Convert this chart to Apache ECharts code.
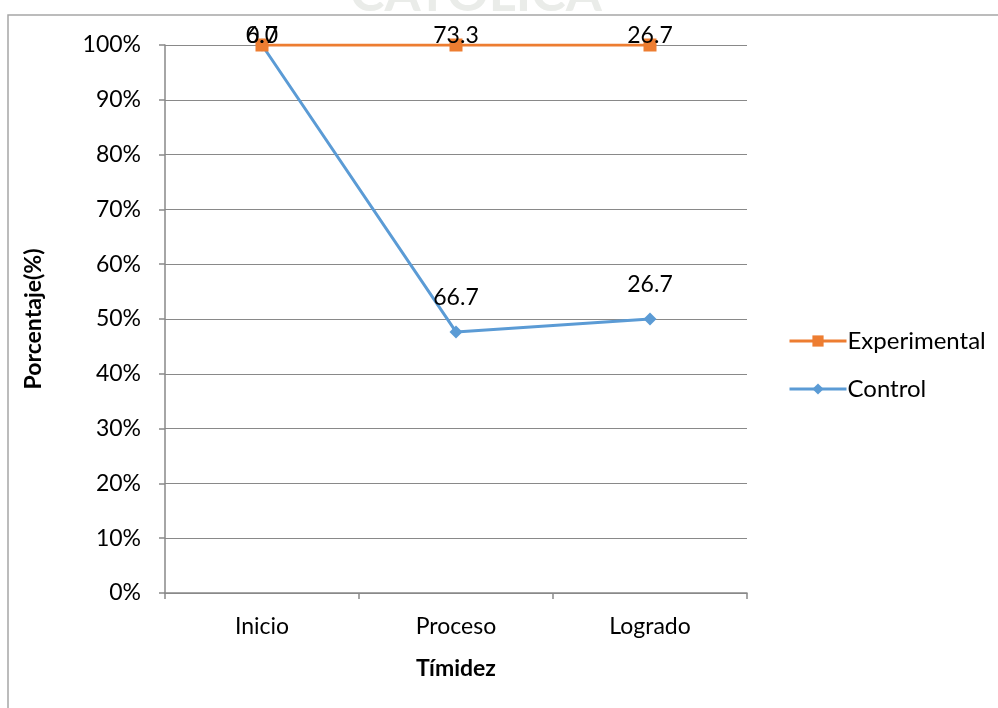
<!DOCTYPE html>
<html>
<head>
<meta charset="utf-8">
<script src="https://cdn.jsdelivr.net/npm/echarts@6/dist/echarts.min.js"></script>
<style>html,body{margin:0;padding:0;background:#fff}#c{width:998px;height:708px}</style>
</head>
<body>
<div id="c"></div>
<script>
var categories = ['Inicio', 'Proceso', 'Logrado'];
var controlValues = [6.7, 66.7, 26.7];
var experimentalValues = [0.0, 73.3, 26.7];
var yTicks = [0, 10, 20, 30, 40, 50, 60, 70, 80, 90, 100];

// 100% stacked line: Control first, Experimental stacked on top
function share(i, upto) {
  var total = controlValues[i] + experimentalValues[i];
  var s = upto === 0 ? controlValues[i] : controlValues[i] + experimentalValues[i];
  return total === 0 ? 0 : s / total * 100;
}
function buildData(raw, upto) {
  return raw.map(function (v, i) {
    var p = share(i, upto);
    var off = p >= 99.9 ? -9 : -34;
    return { value: p, raw: v, label: { offset: [0, off] } };
  });
}

var font = 'Lato';
var chart = echarts.init(document.getElementById('c'), null, { renderer: 'canvas' });
chart.setOption({
  backgroundColor: '#fff',
  animation: false,
  graphic: [
    { type: 'text', left: 350, top: -32, z: -5, style: { text: 'CATÓLICA', font: 'bold 52px Lato', fill: '#eaece9' } },
    { type: 'rect', shape: { x: 8, y: 15, width: 1100, height: 800 }, z: -4, style: { fill: '#fff', stroke: '#a6a6a6', lineWidth: 1.5 } }
  ],
  grid: { left: 165, right: 251, top: 45, bottom: 115, containLabel: false },
  legend: {
    orient: 'vertical', left: 783, top: 324, itemWidth: 57, itemHeight: 14, itemGap: 24,
    lineStyle: { width: 3 },
    textStyle: { fontFamily: font, fontSize: 24, color: '#000', padding: [0, 0, 0, -4] },
    data: ['Experimental', 'Control']
  },
  xAxis: {
    type: 'category', data: categories, boundaryGap: true,
    name: 'Tímidez', nameLocation: 'middle', nameGap: 64,
    nameTextStyle: { fontFamily: font, fontSize: 23, fontWeight: 'bold', color: '#000' },
    axisLine: { lineStyle: { color: '#898989', width: 1.5 } },
    axisTick: { show: true, length: 6, alignWithLabel: false, lineStyle: { color: '#898989', width: 1.5 } },
    axisLabel: { fontFamily: font, fontSize: 23, color: '#000', margin: 22 }
  },
  yAxis: {
    type: 'value', min: 0, max: 100, interval: 10,
    name: 'Porcentaje(%)', nameLocation: 'middle', nameGap: 120, nameRotate: 90,
    nameTextStyle: { fontFamily: font, fontSize: 23, fontWeight: 'bold', color: '#000' },
    axisLine: { show: true, lineStyle: { color: '#898989', width: 1.5 } },
    axisTick: { show: true, length: 6, lineStyle: { color: '#898989', width: 1.5 } },
    splitLine: { lineStyle: { color: '#898989', width: 1.2 } },
    axisLabel: { fontFamily: font, fontSize: 23, color: '#000', margin: 24, formatter: '{value}%' }
  },
  series: [
    {
      name: 'Control', type: 'line', data: buildData(controlValues, 0), z: 3,
      symbol: 'diamond', symbolSize: 13, showAllSymbol: true,
      itemStyle: { color: '#5B9BD5' }, lineStyle: { color: '#5B9BD5', width: 3 },
      label: { show: true, position: 'inside', fontFamily: font, fontSize: 23, color: '#000',
        formatter: function (p) { return p.data.raw.toFixed(1); } }
    },
    {
      name: 'Experimental', type: 'line', data: buildData(experimentalValues, 1), z: 3,
      symbol: 'rect', symbolSize: 13, showAllSymbol: true,
      itemStyle: { color: '#ED7D31' }, lineStyle: { color: '#ED7D31', width: 3 },
      label: { show: true, position: 'inside', fontFamily: font, fontSize: 23, color: '#000',
        formatter: function (p) { return p.data.raw.toFixed(1); } }
    }
  ]
});
</script>
</body>
</html>
